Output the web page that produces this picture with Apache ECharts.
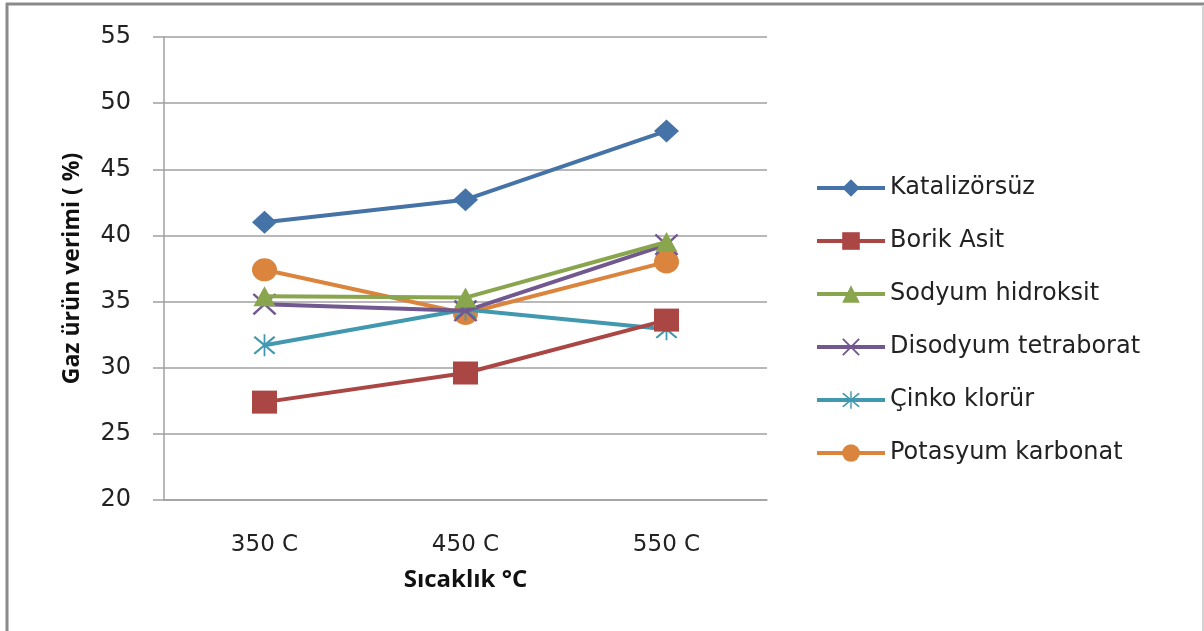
<!DOCTYPE html>
<html>
<head>
<meta charset="utf-8">
<script src="https://cdn.jsdelivr.net/npm/echarts@6/dist/echarts.min.js"></script>
<style>
html,body{margin:0;padding:0;background:#fff;}
#chart{width:1204px;height:631px;}
</style>
</head>
<body>
<div id="chart"></div>
<script>
const categories = ['350 C', '450 C', '550 C'];
const seriesNames = ['Katalizörsüz', 'Borik Asit', 'Sodyum hidroksit', 'Disodyum tetraborat', 'Çinko klorür', 'Potasyum karbonat'];
const katalizorsuz = [41.0, 42.7, 47.9];
const borikAsit = [27.4, 29.6, 33.6];
const sodyumHidroksit = [35.4, 35.3, 39.5];
const disodyumTetraborat = [34.8, 34.3, 39.3];
const cinkoKlorur = [31.7, 34.4, 32.9];
const potasyumKarbonat = [37.4, 34.1, 38.0];
const yTicks = [20, 25, 30, 35, 40, 45, 50, 55];
const yAxisTitle = 'Gaz ürün verimi ( %)';
const xAxisTitle = 'Sıcaklık °C';

const colors = ['#4573A7', '#AA4643', '#89A54E', '#71588F', '#4198AF', '#DB843D'];
const xPath = 'path://M0,1.5 L1.5,0 L10,8.5 L18.5,0 L20,1.5 L11.5,10 L20,18.5 L18.5,20 L10,11.5 L1.5,20 L0,18.5 L8.5,10 Z';
const starPath = 'path://M0,1.5 L1.5,0 L10,8.5 L18.5,0 L20,1.5 L11.5,10 L20,18.5 L18.5,20 L10,11.5 L1.5,20 L0,18.5 L8.5,10 Z M9.2,-2 L10.8,-2 L10.8,22 L9.2,22 Z';
const symbols = ['diamond', 'rect', 'triangle', xPath, starPath, 'circle'];
const symbolSizes = [[25, 23], [25, 23], [22, 20], [24, 22], [22, 22], [25, 23]];
const dataSets = [katalizorsuz, borikAsit, sodyumHidroksit, disodyumTetraborat, cinkoKlorur, potasyumKarbonat];

const series = dataSets.map((d, i) => ({
  name: seriesNames[i],
  type: 'line',
  data: d,
  symbol: symbols[i],
  symbolSize: symbolSizes[i],
  lineStyle: { color: colors[i], width: 4 },
  itemStyle: { color: colors[i] },
  emphasis: { disabled: true },
  animation: false,
  z: 10 - i
}));

const chart = echarts.init(document.getElementById('chart'));
chart.setOption({
  animation: false,
  color: colors,
  grid: { left: 164, top: 37, right: 437, bottom: 131, containLabel: false },
  legend: {
    orient: 'vertical',
    left: 810,
    top: 171,
    itemWidth: 68,
    itemHeight: 22,
    itemGap: 29,
    lineStyle: { width: 4 },
    textStyle: { fontFamily: 'DejaVu Sans', fontSize: 24, color: '#222' },
    data: seriesNames
  },
  xAxis: {
    type: 'category',
    data: categories,
    boundaryGap: true,
    axisLine: { show: true, lineStyle: { color: '#a0a0a0', width: 1.5 } },
    axisTick: { show: false },
    axisLabel: { margin: 34, fontFamily: 'DejaVu Sans', fontSize: 23, color: '#222' },
    name: xAxisTitle,
    nameLocation: 'middle',
    nameGap: 68,
    nameTextStyle: { fontFamily: 'Open Sans', fontWeight: 'bold', fontSize: 24, color: '#111' }
  },
  yAxis: {
    type: 'value',
    min: yTicks[0],
    max: yTicks[yTicks.length - 1],
    interval: 5,
    axisLine: { show: true, lineStyle: { color: '#a0a0a0', width: 1.5 } },
    axisTick: { show: true, length: 11, lineStyle: { color: '#a0a0a0', width: 1.5 } },
    splitLine: { show: true, lineStyle: { color: '#a0a0a0', width: 1.5 } },
    axisLabel: { margin: 33, fontFamily: 'DejaVu Sans', fontSize: 24, color: '#222' },
    name: yAxisTitle,
    nameLocation: 'middle',
    nameGap: 80,
    nameRotate: 90,
    nameTextStyle: { fontFamily: 'Open Sans', fontWeight: 'bold', fontSize: 23, color: '#111' }
  },
  graphic: [
    { type: 'line', shape: { x1: 6, y1: 4, x2: 1204, y2: 4 }, style: { stroke: '#8a8a8a', lineWidth: 3 }, silent: true },
    { type: 'line', shape: { x1: 7, y1: 3, x2: 7, y2: 631 }, style: { stroke: '#8a8a8a', lineWidth: 3 }, silent: true },
    { type: 'line', shape: { x1: 1203, y1: 5, x2: 1203, y2: 631 }, style: { stroke: '#d4d4d4', lineWidth: 2 }, silent: true }
  ],
  series: series
});
</script>
</body>
</html>
